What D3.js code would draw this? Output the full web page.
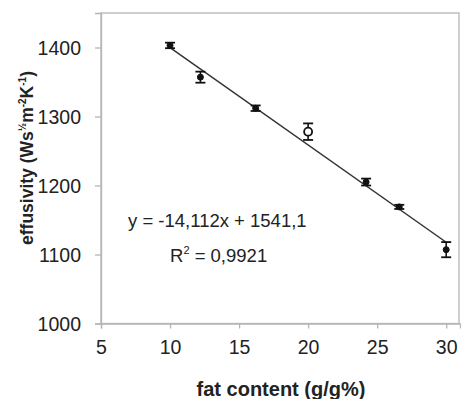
<!DOCTYPE html>
<html>
<head>
<meta charset="utf-8">
<script src="https://cdn.jsdelivr.net/npm/d3@7"></script>
<style>
  body { margin: 0; background: #fff; }
  text { font-family: Arial, "Liberation Sans", sans-serif; fill: #222; }
</style>
</head>
<body>
<div id="chart"></div>
<script>
// data
const fat = [10, 12.2, 16.2, 20, 24.2, 26.6, 30];
const effusivity = [1403, 1357, 1312, 1278, 1205, 1169, 1107];
const errors = [4, 8, 4, 12, 5, 3, 11];
const hollow = [false, false, false, true, false, false, false];
const xTicks = [5, 10, 15, 20, 25, 30];
const yTicks = [1000, 1100, 1200, 1300, 1400];
const slope = -14.112, intercept = 1541.1;

const W = 461, H = 399;
const MARGIN = {left: 101, right: 1, top: 13, bottom: 75};

const svg = d3.select("#chart").append("svg")
    .attr("width", W).attr("height", H);

const x = d3.scaleLinear().domain([5, 31]).range([MARGIN.left, W - MARGIN.right]);
const y = d3.scaleLinear().domain([1000, 1450]).range([H - MARGIN.bottom - 0.5, MARGIN.top]);

// frame
svg.append("rect")
    .attr("x", x(5)).attr("y", y(1450))
    .attr("width", x(31) - x(5) - 1).attr("height", y(1000) - y(1450))
    .attr("fill", "none").attr("stroke", "#b5b5b5").attr("stroke-width", 1.3);

// axes
const xAxis = svg.append("g")
    .attr("transform", `translate(0,${y(1000)})`)
    .call(d3.axisBottom(x).tickValues(xTicks).tickSize(5).tickPadding(12).tickFormat(d3.format("d")));
const yAxis = svg.append("g")
    .attr("transform", `translate(${x(5)},0)`)
    .call(d3.axisLeft(y).tickValues(yTicks).tickSize(6).tickPadding(14).tickFormat(d3.format("d")));

[xAxis, yAxis].forEach(g => {
  g.select(".domain").attr("stroke", "#b5b5b5").attr("stroke-width", 1.3);
  g.selectAll(".tick line").attr("stroke", "#b5b5b5").attr("stroke-width", 1.3);
  g.selectAll(".tick text").attr("fill", "#222").style("font-size", "19.5px")
    .style("font-family", "Arial, 'Liberation Sans', sans-serif");
});
yAxis.selectAll(".tick text").attr("dy", "0.35em");

// regression line
svg.append("line")
    .attr("x1", x(10)).attr("y1", y(slope * 10 + intercept))
    .attr("x2", x(30)).attr("y2", y(slope * 30 + intercept))
    .attr("stroke", "#333").attr("stroke-width", 1.5);

// error bars
const pts = fat.map((f, i) => ({f, v: effusivity[i], e: errors[i], h: hollow[i]}));
const eb = svg.append("g").selectAll("g").data(pts).join("g");
eb.append("line")
    .attr("x1", d => x(d.f)).attr("x2", d => x(d.f))
    .attr("y1", d => y(d.v - d.e)).attr("y2", d => y(d.v + d.e))
    .attr("stroke", "#111").attr("stroke-width", 1.6);
eb.selectAll("line.cap").data(d => [d.v - d.e, d.v + d.e].map(v => ({f: d.f, v})))
    .join("line").attr("class", "cap")
    .attr("x1", d => x(d.f) - 5).attr("x2", d => x(d.f) + 5)
    .attr("y1", d => y(d.v)).attr("y2", d => y(d.v))
    .attr("stroke", "#111").attr("stroke-width", 1.8);

// markers
svg.append("g").selectAll("circle").data(pts).join("circle")
    .attr("cx", d => x(d.f)).attr("cy", d => y(d.v))
    .attr("r", d => d.h ? 4 : 3)
    .attr("fill", d => d.h ? "#fff" : "#111")
    .attr("stroke", "#111").attr("stroke-width", d => d.h ? 1.8 : 1);

// equation
svg.append("text").attr("x", 128).attr("y", 227)
    .style("font-size", "18.5px").text("y = -14,112x + 1541,1");
const r2 = svg.append("text").attr("x", 170).attr("y", 262).style("font-size", "18.5px");
r2.append("tspan").text("R");
r2.append("tspan").attr("dy", -8).style("font-size", "11px").text("2");
r2.append("tspan").attr("dy", 8).text(" = 0,9921");

// axis titles
svg.append("text").attr("x", 281).attr("y", 396)
    .attr("text-anchor", "middle").style("font-size", "20px").style("font-weight", "bold")
    .text("fat content (g/g%)");

const yt = svg.append("text")
    .attr("transform", "translate(33,158) rotate(-90)")
    .attr("text-anchor", "middle").style("font-size", "17.5px").style("font-weight", "bold");
yt.append("tspan").text("effusivity (Ws");
yt.append("tspan").attr("dy", -7).style("font-size", "10px").text("½");
yt.append("tspan").attr("dy", 7).text("m");
yt.append("tspan").attr("dy", -7).style("font-size", "10px").text("-2");
yt.append("tspan").attr("dy", 7).text("K");
yt.append("tspan").attr("dy", -7).style("font-size", "10px").text("-1");
yt.append("tspan").attr("dy", 7).text(")");
</script>
</body>
</html>
